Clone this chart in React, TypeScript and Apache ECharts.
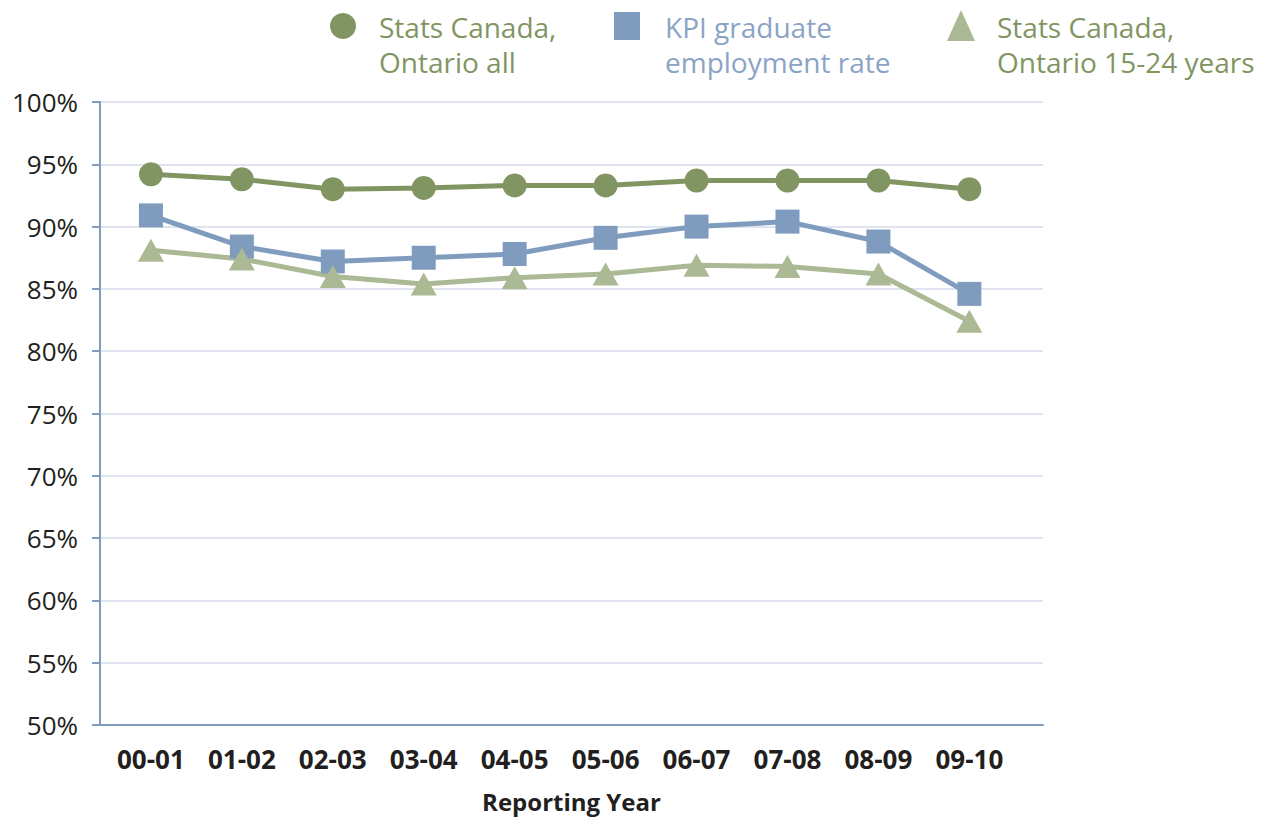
import React, { useEffect, useRef } from "react";
import * as echarts from "echarts";

const categories = ["00-01", "01-02", "02-03", "03-04", "04-05", "05-06", "06-07", "07-08", "08-09", "09-10"];
const statsAll = [94.2, 93.8, 93.0, 93.1, 93.3, 93.3, 93.7, 93.7, 93.7, 93.0];
const kpiRate = [90.9, 88.4, 87.2, 87.5, 87.8, 89.1, 90.0, 90.4, 88.8, 84.6];
const stats1524 = [88.1, 87.4, 86.0, 85.4, 85.9, 86.2, 86.9, 86.8, 86.2, 82.4];

const GREEN = "#819562";
const BLUE = "#7f9cbf";
const LIGHT = "#abb994";
const FONT = "'Open Sans', 'Noto Sans', sans-serif";

const toPairs = (arr: number[]) => arr.map((v, i) => [i, v]);

export default function App() {
  const ref = useRef<HTMLDivElement>(null);
  useEffect(() => {
    if (!ref.current) return;
    const chart = echarts.init(ref.current, null, { renderer: "svg" });
    const legendText = (x: number, text: string, color: string) => ({
      type: "text",
      left: x,
      top: 9,
      style: { text, fill: color, font: `28px ${FONT}`, lineHeight: 35 },
    });
    chart.setOption({
      animation: false,
      backgroundColor: "#ffffff",
      grid: { left: 100, right: 227, top: 102, bottom: 93, containLabel: false },
      xAxis: {
        type: "value",
        min: -0.56,
        max: 9.81,
        name: "Reporting Year",
        nameLocation: "middle",
        nameGap: 64,
        nameTextStyle: { fontFamily: FONT, fontWeight: "bold", fontSize: 24, color: "#231f20" },
        axisLine: { show: true, onZero: false, lineStyle: { color: BLUE, width: 2 } },
        axisTick: { show: false },
        splitLine: { show: false },
        axisLabel: {
          customValues: categories.map((_, i) => i),
          formatter: (v: number) => categories[Math.round(v)] ?? "",
          fontFamily: FONT,
          fontWeight: "bold",
          fontSize: 26,
          color: "#231f20",
          margin: 21,
        },
      },
      yAxis: {
        type: "value",
        min: 50,
        max: 100,
        interval: 5,
        axisLine: { show: true, onZero: false, lineStyle: { color: BLUE, width: 2 } },
        axisTick: { show: true, length: 8, lineStyle: { color: BLUE, width: 2 } },
        splitLine: { show: true, lineStyle: { color: "#dfe4ee", width: 2 } },
        axisLabel: {
          formatter: "{value}%",
          fontFamily: FONT,
          fontSize: 26,
          color: "#231f20",
          margin: 22,
        },
      },
      graphic: [
        { type: "circle", shape: { cx: 343, cy: 26, r: 13 }, style: { fill: GREEN } },
        legendText(379, "Stats Canada,\nOntario all", GREEN),
        { type: "rect", shape: { x: 614, y: 12, width: 26, height: 28 }, style: { fill: BLUE } },
        legendText(665, "KPI graduate\nemployment rate", "#8ba4c6"),
        { type: "polygon", shape: { points: [[961, 10], [947, 41], [975, 41]] }, style: { fill: LIGHT } },
        legendText(997, "Stats Canada,\nOntario 15-24 years", GREEN),
      ],
      series: [
        {
          name: "Stats Canada, Ontario all",
          type: "line",
          data: toPairs(statsAll),
          symbol: "circle",
          symbolSize: 24,
          itemStyle: { color: GREEN },
          lineStyle: { color: GREEN, width: 5 },
        },
        {
          name: "KPI graduate employment rate",
          type: "line",
          data: toPairs(kpiRate),
          symbol: "rect",
          symbolSize: 24,
          itemStyle: { color: BLUE },
          lineStyle: { color: BLUE, width: 5 },
        },
        {
          name: "Stats Canada, Ontario 15-24 years",
          type: "line",
          data: toPairs(stats1524),
          symbol: "triangle",
          symbolSize: [26, 23],
          itemStyle: { color: LIGHT },
          lineStyle: { color: LIGHT, width: 5 },
        },
      ],
    });
    return () => chart.dispose();
  }, []);
  return <div ref={ref} style={{ position: "fixed", left: 0, top: 0, width: 1270, height: 818 }} />;
}
